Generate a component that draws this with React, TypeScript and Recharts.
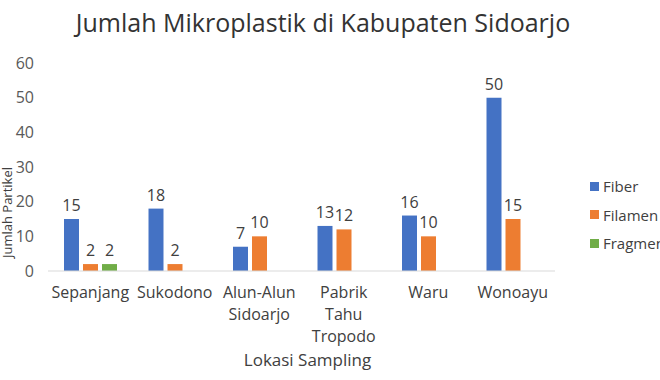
import { BarChart, Bar, XAxis, YAxis, LabelList } from "recharts";

const categories = [
    "Sepanjang",
    "Sukodono",
    "Alun-Alun Sidoarjo",
    "Pabrik Tahu Tropodo",
    "Waru",
    "Wonoayu",
];
const fiber = [15, 18, 7, 13, 16, 50];
const filamen = [2, 2, 10, 12, 10, 15];
const fragmen = [2, null, null, null, null, null];
const yTicks = [0, 10, 20, 30, 40, 50, 60];

const series = [
    { key: "Fiber", color: "#4472C4" },
    { key: "Filamen", color: "#ED7D31" },
    { key: "Fragmen", color: "#70AD47" },
];

const data = categories.map((name, i) => ({
    name,
    Fiber: fiber[i],
    Filamen: filamen[i],
    Fragmen: fragmen[i],
}));

const font = "'Open Sans', sans-serif";

function CategoryTick(props: any) {
    const { x, y, payload } = props;
    const lines = String(payload.value).split(" ");
    return (
        <text x={x} y={y + 19} textAnchor="middle" fill="#404040" fontSize={16} fontFamily={font}>
            {lines.map((l, i) => (
                <tspan key={i} x={x} dy={i === 0 ? 0 : 22}>
                    {l}
                </tspan>
            ))}
        </text>
    );
}

const labelStyle = { fill: "#404040", fontSize: 16, fontFamily: font };

export default function App() {
    return (
        <div style={{ position: "absolute", left: 0, top: 0, width: 660, height: 380, overflow: "hidden", background: "#fff" }}>
            <div
                style={{
                    position: "absolute",
                    top: 5,
                    left: 0,
                    width: 646,
                    textAlign: "center",
                    fontFamily: font,
                    fontSize: 25,
                    color: "#333",
                }}
            >
                Jumlah Mikroplastik di Kabupaten Sidoarjo
            </div>
            <BarChart
                width={660}
                height={380}
                data={data}
                margin={{ top: 63, right: 105, left: 8, bottom: 12 }}
                barGap={4}
                barSize={15}
            >
                <XAxis
                    dataKey="name"
                    height={97}
                    tick={<CategoryTick />}
                    tickLine={false}
                    axisLine={{ stroke: "#d9d9d9" }}
                    interval={0}
                    label={{ value: "Lokasi Sampling", position: "insideBottom", offset: 2, dx: 6, style: { ...labelStyle, fontSize: 17 } }}
                />
                <YAxis
                    width={40}
                    domain={[0, 60]}
                    ticks={yTicks}
                    tickLine={false}
                    axisLine={false}
                    tickMargin={8}
                    tick={{ fill: "#595959", fontSize: 16, fontFamily: font }}
                    label={{ value: "Jumlah Partikel", angle: -90, position: "left", offset: 1, style: { ...labelStyle, fontSize: 13 } }}
                />
                {series.map((s) => (
                    <Bar key={s.key} dataKey={s.key} fill={s.color} isAnimationActive={false}>
                        <LabelList dataKey={s.key} position="top" offset={8} style={labelStyle} />
                    </Bar>
                ))}
            </BarChart>
            <div style={{ position: "absolute", left: 590, top: 172, fontFamily: font, fontSize: 15, color: "#404040", whiteSpace: "nowrap" }}>
                {series.map((s) => (
                    <div key={s.key} style={{ height: 28.5, display: "flex", alignItems: "center" }}>
                        <span style={{ width: 9, height: 9, background: s.color, marginRight: 4, display: "inline-block" }} />
                        {s.key}
                    </div>
                ))}
            </div>
        </div>
    );
}
